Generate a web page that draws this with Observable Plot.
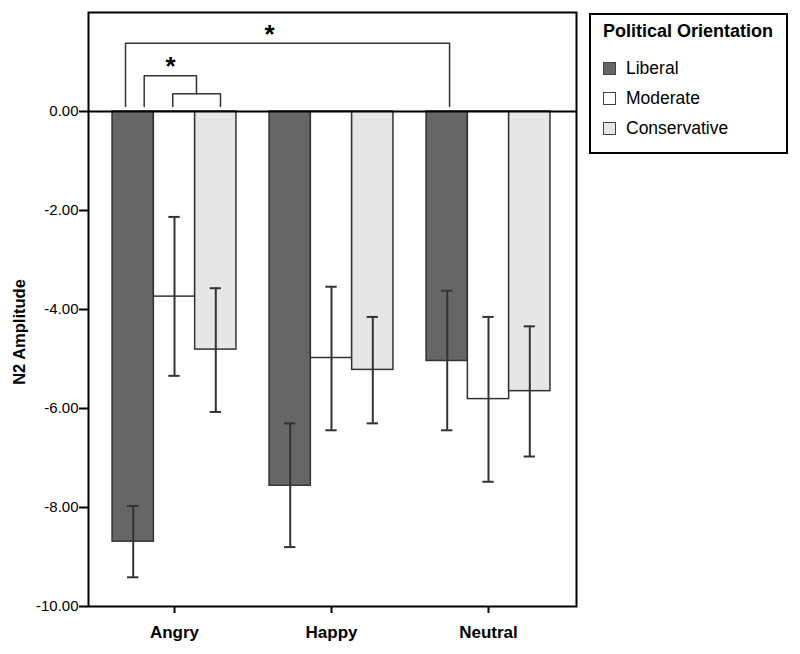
<!DOCTYPE html>
<html><head><meta charset="utf-8">
<script src="https://cdn.jsdelivr.net/npm/d3@7"></script>
<script src="https://cdn.jsdelivr.net/npm/@observablehq/plot@0.6"></script>
<style>
body{margin:0;background:#fff;font-family:Arial,"Liberation Sans",sans-serif;}
#wrap{position:relative;width:800px;height:654px;}
#legend{position:absolute;left:589px;top:13px;width:199px;height:141px;box-sizing:border-box;border:2px solid #000;background:#fff;}
#legend .title{position:absolute;left:12px;top:6px;font-size:18px;line-height:20px;font-weight:bold;white-space:nowrap;}
#legend .row{position:absolute;left:12px;height:30px;line-height:30px;font-size:17.5px;white-space:nowrap;}
#legend .sw{display:inline-block;width:13px;height:13px;box-sizing:border-box;border:1.5px solid #444;vertical-align:middle;margin-right:10px;position:relative;top:-1px;}
#ylabel{position:absolute;left:19px;top:332px;transform:translate(-50%,-50%) rotate(-90deg);font-size:16.5px;font-weight:bold;white-space:nowrap;line-height:18px;}
</style>
</head><body>
<div id="wrap"><div id="chart"></div><div id="ylabel"></div><div id="legend"></div></div>
<script>
// ---- data ----
const categories = ["Angry", "Happy", "Neutral"];
const groups = ["Liberal", "Moderate", "Conservative"];
const liberal = [-8.69, -7.56, -5.04];
const moderate = [-3.74, -4.98, -5.81];
const conservative = [-4.81, -5.22, -5.65];
const liberalLo = [-9.41, -8.80, -6.44];
const liberalHi = [-7.97, -6.30, -3.62];
const moderateLo = [-5.34, -6.44, -7.48];
const moderateHi = [-2.13, -3.54, -4.15];
const conservativeLo = [-6.07, -6.30, -6.97];
const conservativeHi = [-3.57, -4.15, -4.34];
const yTicks = [0, -2, -4, -6, -8, -10];
const groupColors = ["#666666", "#ffffff", "#e6e6e6"];
// significance brackets (x in category units, y in amplitude units)
const bracketFrom = [-0.312, -0.193, -0.011];
const bracketTo = [1.752, 0.140, 0.293];
const bracketTop = [1.38, 0.72, 0.36];
const bracketLeftFoot = [0.10, 0.10, 0.10];
const bracketRightFoot = [0.10, 0.36, 0.10];
const starX = [0.605, -0.025];
const starY = [1.62, 0.97];
const yLabel = "N2 Amplitude";
const legendTitle = "Political Orientation";

// ---- build ----
const bw = 0.263, cap = 0.036;
const means = [liberal, moderate, conservative];
const los = [liberalLo, moderateLo, conservativeLo];
const his = [liberalHi, moderateHi, conservativeHi];
const rows = categories.flatMap((c, i) => groups.map((g, j) => ({
  cat: c, group: g, mean: means[j][i], lo: los[j][i], hi: his[j][i],
  x1: i + (j - 1.5) * bw, x2: i + (j - 0.5) * bw, xc: i + (j - 1) * bw
})));
const bracketPts = bracketFrom.flatMap((f, k) => [
  {id: k, x: f, y: bracketLeftFoot[k]},
  {id: k, x: f, y: bracketTop[k]},
  {id: k, x: bracketTo[k], y: bracketTop[k]},
  {id: k, x: bracketTo[k], y: bracketRightFoot[k]}
]);
const stars = starX.map((x, k) => ({x, y: starY[k]}));

const chart = Plot.plot({
  width: 800, height: 654,
  marginLeft: 88, marginRight: 224, marginTop: 12, marginBottom: 48,
  x: {domain: [-0.5478, 2.5605], axis: null},
  y: {domain: [-10, 2], axis: null},
  color: {domain: groups, range: groupColors},
  style: {fontFamily: "Arial, 'Liberation Sans', sans-serif", color: "#000", background: "#fff"},
  marks: [
    Plot.rect(rows, {x1: "x1", x2: "x2", y1: 0, y2: "mean", fill: "group", stroke: "#333", strokeWidth: 1.5}),
    Plot.ruleX(rows, {x: "xc", y1: "lo", y2: "hi", stroke: "#333", strokeWidth: 2}),
    Plot.ruleY(rows, {y: "lo", x1: d => d.xc - cap, x2: d => d.xc + cap, stroke: "#333", strokeWidth: 2}),
    Plot.ruleY(rows, {y: "hi", x1: d => d.xc - cap, x2: d => d.xc + cap, stroke: "#333", strokeWidth: 2}),
    Plot.ruleY([0], {stroke: "#000", strokeWidth: 2}),
    Plot.line(bracketPts, {x: "x", y: "y", z: "id", stroke: "#333", strokeWidth: 1.5}),
    Plot.text(stars, {x: "x", y: "y", text: () => "*", fontSize: 26, fontWeight: "bold", dy: 3}),
    Plot.axisY({ticks: yTicks, tickFormat: d => d.toFixed(2), tickSize: 9, tickPadding: 1, fontSize: 15, strokeWidth: 2, label: null}),
    Plot.axisX({ticks: [0, 1, 2], tickFormat: i => categories[i], tickSize: 7, tickPadding: 12, fontSize: 17, fontWeight: "bold", strokeWidth: 2, label: null}),
    Plot.frame({stroke: "#000", strokeWidth: 2})
  ]
});
document.getElementById("chart").appendChild(chart);
document.getElementById("ylabel").textContent = yLabel;

// legend
const lg = document.getElementById("legend");
const t = document.createElement("div"); t.className = "title"; t.textContent = legendTitle; lg.appendChild(t);
groups.forEach((g, j) => {
  const r = document.createElement("div"); r.className = "row"; r.style.top = (38 + 30 * j) + "px";
  const s = document.createElement("span"); s.className = "sw"; s.style.background = groupColors[j];
  r.appendChild(s); r.appendChild(document.createTextNode(g)); lg.appendChild(r);
});
</script>
</body></html>
